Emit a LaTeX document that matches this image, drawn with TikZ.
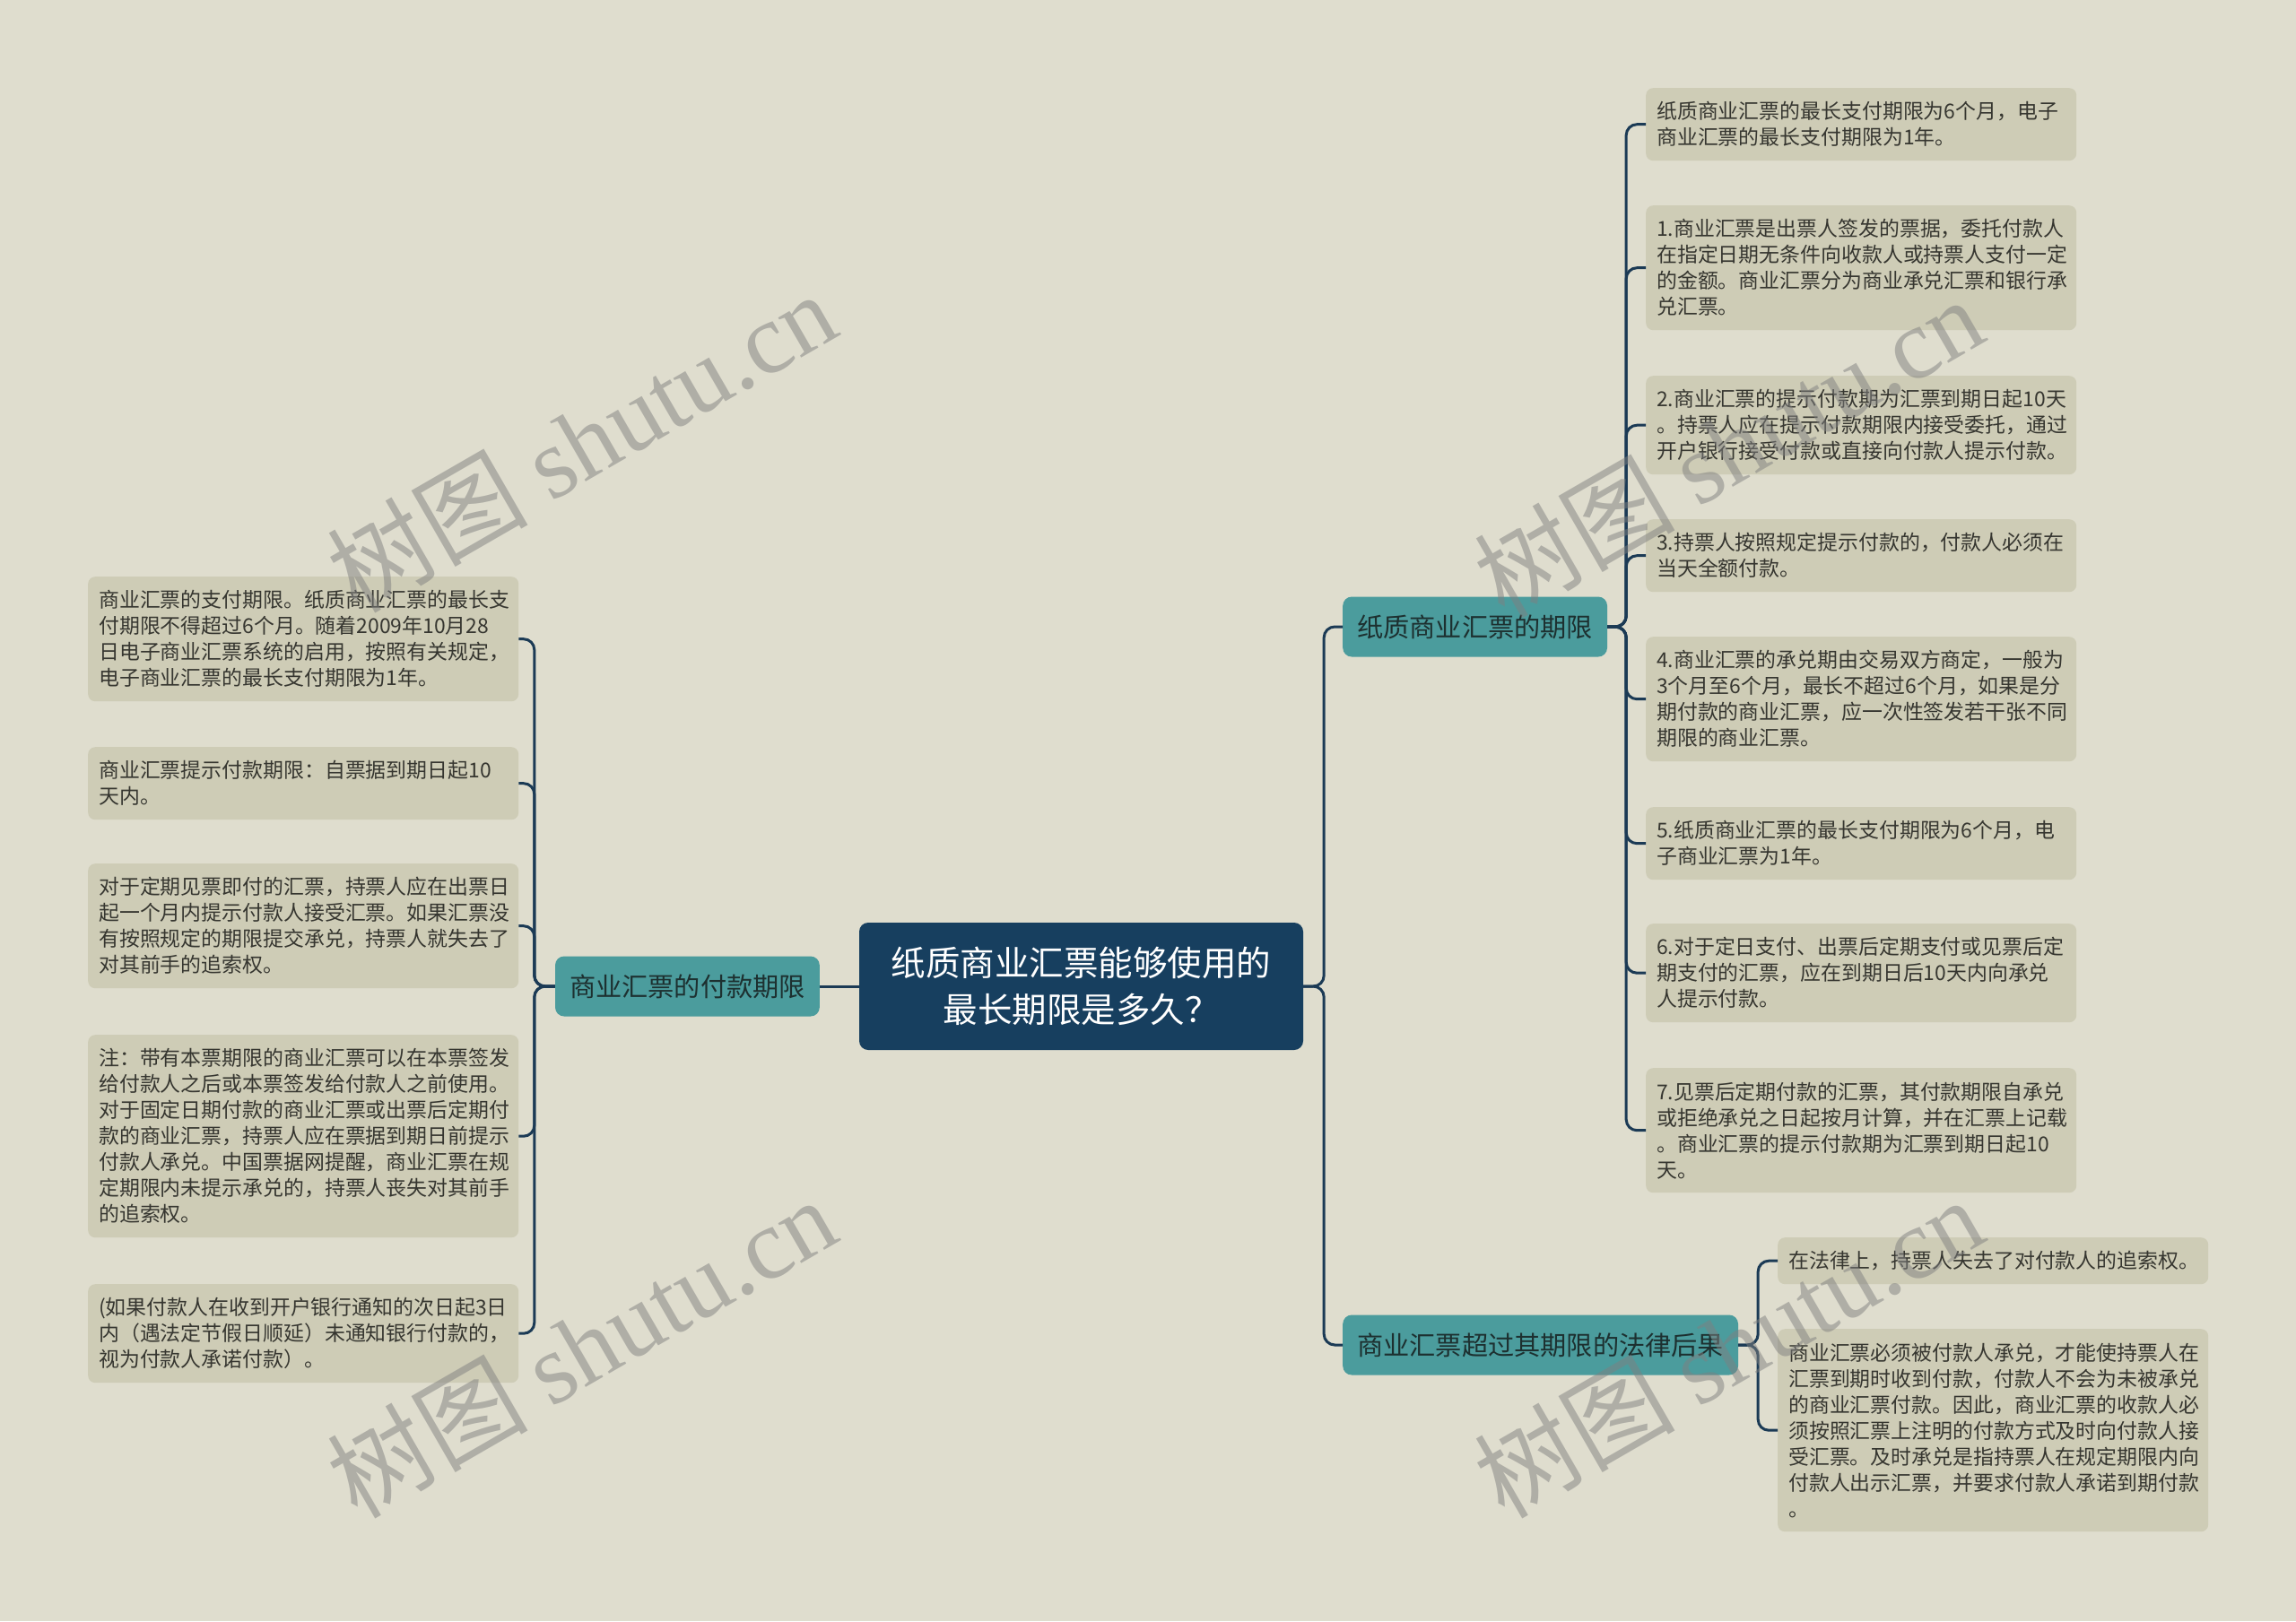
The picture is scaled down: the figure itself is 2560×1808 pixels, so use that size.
\documentclass[tikz,border=0pt]{standalone}
\usepackage{fontspec}
\setmainfont{Noto Sans CJK SC}
\newfontfamily\wmfont{Liberation Serif}
\definecolor{bgcol}{HTML}{DFDDCE}
\definecolor{leafcol}{HTML}{CECCB6}
\definecolor{leaftext}{HTML}{363630}
\definecolor{branchcol}{HTML}{4B9C9D}
\definecolor{branchtext}{HTML}{1D3030}
\definecolor{rootcol}{HTML}{173F5F}
\definecolor{linecol}{HTML}{1B3A55}

\begin{document}
\begin{tikzpicture}[x=1pt,y=-1pt,
  leaf/.style={fill=leafcol, rounded corners=8pt, text=leaftext, text width=456pt,
    align=left, inner xsep=12pt, inner ysep=0pt, minimum height={#1*29pt+23pt},
    anchor=north west, font=\fontsize{22.9pt}{29pt}\selectfont},
  branch/.style={fill=branchcol, rounded corners=10pt, text=branchtext, inner xsep=16pt,
    minimum height=67pt, font=\fontsize{29.2pt}{35pt}\selectfont},
  conn/.style={draw=linecol, line width=3pt, rounded corners=12pt},
  wm/.style={rotate=30, text=gray, opacity=0.5, font=\fontsize{112pt}{120pt}\selectfont}]
\fill[bgcol] (0,0) rectangle (2560,1808);
\useasboundingbox (0,0) rectangle (2560,1808);
% Root and main branches
\node[fill=rootcol, rounded corners=10pt, text=white, align=center, minimum width=495pt,
  minimum height=142pt, font=\fontsize{38.5pt}{52pt}\selectfont] (root) at (1205.5,1100)
  {纸质商业汇票能够使用的\\最长期限是多久？};
\node[branch, anchor=east] (pay) at (914,1100) {商业汇票的付款期限};
\node[branch, anchor=west] (paper) at (1497,699) {纸质商业汇票的期限};
\node[branch, anchor=west] (law) at (1497,1500) {商业汇票超过其期限的法律后果};
% Leaves of the left branch
\node[leaf=4] (pay1) at (98,643) {商业汇票的支付期限。纸质商业汇票的最长支\\付期限不得超过6个月。随着2009年10月28\\日电子商业汇票系统的启用，按照有关规定，\\电子商业汇票的最长支付期限为1年。};
\node[leaf=2] (pay2) at (98,833) {商业汇票提示付款期限：自票据到期日起10\\天内。};
\node[leaf=4] (pay3) at (98,963) {对于定期见票即付的汇票，持票人应在出票日\\起一个月内提示付款人接受汇票。如果汇票没\\有按照规定的期限提交承兑，持票人就失去了\\对其前手的追索权。};
\node[leaf=7] (pay4) at (98,1154) {注：带有本票期限的商业汇票可以在本票签发\\给付款人之后或本票签发给付款人之前使用。\\对于固定日期付款的商业汇票或出票后定期付\\款的商业汇票，持票人应在票据到期日前提示\\付款人承兑。中国票据网提醒，商业汇票在规\\定期限内未提示承兑的，持票人丧失对其前手\\的追索权。};
\node[leaf=3] (pay5) at (98,1432) {(如果付款人在收到开户银行通知的次日起3日\\内（遇法定节假日顺延）未通知银行付款的，\\视为付款人承诺付款）。};
% Leaves of the upper right branch
\node[leaf=2] (paper1) at (1835,98) {纸质商业汇票的最长支付期限为6个月，电子\\商业汇票的最长支付期限为1年。};
\node[leaf=4] (paper2) at (1835,229) {1.商业汇票是出票人签发的票据，委托付款人\\在指定日期无条件向收款人或持票人支付一定\\的金额。商业汇票分为商业承兑汇票和银行承\\兑汇票。};
\node[leaf=3] (paper3) at (1835,419) {2.商业汇票的提示付款期为汇票到期日起10天\\。持票人应在提示付款期限内接受委托，通过\\开户银行接受付款或直接向付款人提示付款。};
\node[leaf=2] (paper4) at (1835,579) {3.持票人按照规定提示付款的，付款人必须在\\当天全额付款。};
\node[leaf=4] (paper5) at (1835,710) {4.商业汇票的承兑期由交易双方商定，一般为\\3个月至6个月，最长不超过6个月，如果是分\\期付款的商业汇票，应一次性签发若干张不同\\期限的商业汇票。};
\node[leaf=2] (paper6) at (1835,900) {5.纸质商业汇票的最长支付期限为6个月，电\\子商业汇票为1年。};
\node[leaf=3] (paper7) at (1835,1030) {6.对于定日支付、出票后定期支付或见票后定\\期支付的汇票，应在到期日后10天内向承兑\\人提示付款。};
\node[leaf=4] (paper8) at (1835,1191) {7.见票后定期付款的汇票，其付款期限自承兑\\或拒绝承兑之日起按月计算，并在汇票上记载\\。商业汇票的提示付款期为汇票到期日起10\\天。};
% Leaves of the lower right branch
\node[leaf=1] (law1) at (1982,1380) {在法律上，持票人失去了对付款人的追索权。};
\node[leaf=7] (law2) at (1982,1482) {商业汇票必须被付款人承兑，才能使持票人在\\汇票到期时收到付款，付款人不会为未被承兑\\的商业汇票付款。因此，商业汇票的收款人必\\须按照汇票上注明的付款方式及时向付款人接\\受汇票。及时承兑是指持票人在规定期限内向\\付款人出示汇票，并要求付款人承诺到期付款\\。};
% Connectors
\draw[conn] (root.west) -- (pay.east);
\draw[conn] (root.east) -- ++(23,0) |- (paper.west);
\draw[conn] (root.east) -- ++(23,0) |- (law.west);
\foreach \i in {1,...,5}
  \draw[conn] (pay.west) -- ++(-23,0) |- (pay\i.east);
\foreach \i in {1,...,8}
  \draw[conn] (paper.east) -- ++(21,0) |- (paper\i.west);
\foreach \i in {1,2}
  \draw[conn] (law.east) -- ++(22,0) |- (law\i.west);
% Watermarks
\node[wm] (wm1) at (648,492) {树图 {\wmfont shutu.cn}};
\node[wm] (wm2) at (648,1502) {树图 {\wmfont shutu.cn}};
\node[wm] (wm3) at (1927,498) {树图 {\wmfont shutu.cn}};
\node[wm] (wm4) at (1927,1502) {树图 {\wmfont shutu.cn}};
\end{tikzpicture}
\end{document}
